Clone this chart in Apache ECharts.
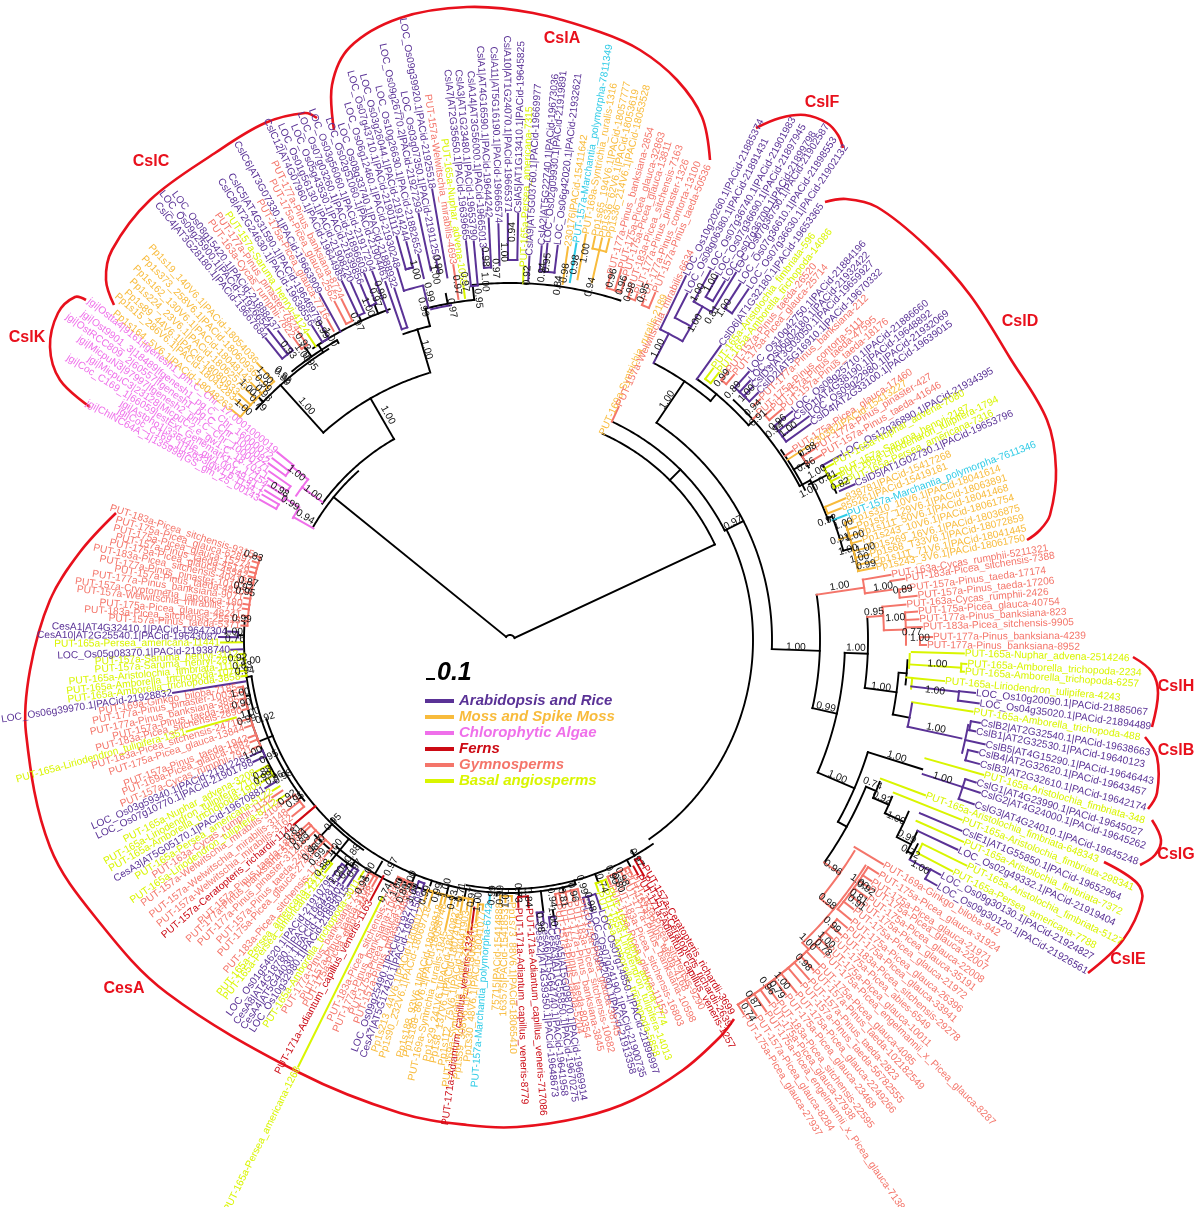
<!DOCTYPE html>
<html><head><meta charset="utf-8">
<style>html,body{margin:0;padding:0;background:#fff}#c{width:1200px;height:1207px}</style>
<script src="https://cdn.jsdelivr.net/npm/echarts@6/dist/echarts.min.js"></script>
</head><body><div id="c"></div>
<script>
// Leaves: [name, group, angle in degrees, tip depth, parent node depth]
const gymRight=[
['PUT-163a-Cycas_rumphii-5211321','G',9.7,387,358],['PUT-183a-Picea_sitchensis-7388','G',8.8,400,385],
['PUT-157a-Pinus_taeda-17174','G',7.4,403,392],['PUT-157a-Pinus_taeda-17206','G',6.2,410,392],
['PUT-163a-Cycas_rumphii-2426','G',5.1,398,374],['PUT-175a-Picea_glauca-40754','G',4,409,396],
['PUT-177a-Pinus_banksiana-823','G',2.9,410,396],['PUT-183a-Picea_sitchensis-9905','G',1.8,413,396],
['PUT-177a-Pinus_banksiana-4239','G',0.4,423,410],['PUT-177a-Pinus_banksiana-8952','G',-0.7,417,410]];
const cslH=[
['PUT-165a-Nuphar_advena-2514246','B',-1.7,455,402],['PUT-165a-Amborella_trichopoda-2234','B',-3,458,452],
['PUT-165a-Amborella_trichopoda-6257','B',-4,456,452],['PUT-165a-Liriodendron_tulipifera-4243','B',-5.4,437,404],
['LOC_Os10g20090.1|PACid-21885067','R',-6.5,469,452],['LOC_Os04g35020.1|PACid-21894489','R',-7.7,474,452],
['PUT-165a-Amborella_trichopoda-488','B',-8.8,469,407]];
const cslB=[
['CslB2|AT2G32540.1|PACid-19638663','R',-10,478,468],['CslB1|AT2G32530.1|PACid-19640123','R',-11.1,475,468],
['CslB5|AT4G15290.1|PACid-19646443','R',-12.4,487,466],['CslB4|AT2G32620.1|PACid-19643457','R',-13.5,482,471],
['CslB3|AT2G32610.1|PACid-19642174','R',-14.8,486,471]];
const cslG=[
['PUT-165a-Aristolochia_fimbriata-348','B',-15.9,493,432],['CslG1|AT4G23990.1|PACid-19645027','R',-17,488,476],
['CslG2|AT4G24000.1|PACid-19645262','R',-18,495,476],['CslG3|AT4G24010.1|PACid-19645248','R',-19.5,493,476]];
const cslE=[
['PUT-165a-Aristolochia_fimbriata-648343','B',-20.5,444,396],['PUT-165a-Aristolochia_fimbriata-298341','B',-21.7,487,413],
['CslE1|AT1G55850.1|PACid-19652964','R',-22.9,491,445],['PUT-165a-Aristolochia_fimbriata-7372','B',-24,497,445],
['LOC_Os02g49332.1|PACid-21919404','R',-25.1,495,450],['PUT-165a-Aristolochia_fimbriata-5127','B',-26.3,510,460],
['PUT-165a-Persea_americana-7788','B',-27.6,500,460],['LOC_Os09g30130.1|PACid-21924827','R',-28.6,491,479],
['LOC_Os09g30120.1|PACid-21926561','R',-29.9,493,479]];
const gymE=[
['PUT-169a-Ginkgo_biloba-942','G',-31,436,402],['PUT-175a-Picea_glauca-31924','G',-32.4,437,424],
['PUT-175a-Picea_glauca-21971','G',-33.7,435,424],['PUT-175a-Picea_glauca-22007','G',-34.6,437,424],
['PUT-175a-Picea_glauca-22008','G',-35.8,441,424],['PUT-175a-Picea_glauca-35191','G',-36.9,439,424],
['PUT-175a-Picea_glauca-21972','G',-38.1,437,424],['PUT-175a-Picea_glauca-26396','G',-39.4,442,424],
['PUT-175a-Picea_glauca-33941','G',-40.5,444,430],['PUT-183a-Picea_sitchensis-29278','G',-41.7,444,430],
['PUT-175a-Picea_abies-6549','G',-42.8,440,430],['PUT-175a-Picea_glauca-10011','G',-44,442,430],
['PUT-175a-Picea_engelmannii_x_Picea_glauca-8287','G',-45,445,430],['PUT-175a-Picea_glauca-4085','G',-46.4,449,430],
['PUT-157a-Pinus_taeda-102182549','G',-47.4,449,430],['PUT-157a-Pinus_taeda-2823','G',-48.6,453,430],
['PUT-157a-Pinus_taeda-56782555','G',-49.7,451,430],['PUT-175a-Picea_glauca-2249266','G',-50.9,455,430],
['PUT-175a-Picea_glauca-23468','G',-52.1,450,430],['PUT-183a-Picea_sitchensis-22595','G',-53.4,450,430],
['PUT-175a-Picea_glauca-27938','G',-54.4,447,430],['PUT-175a-Picea_engelmannii_x_Picea_glauca-7138','G',-55.4,452,430],
['PUT-157a-Picea_glauca-8284','G',-56.7,450,430],['PUT-175a-Picea_glauca-27937','G',-58,442,430]];
const cesABottom=[
['PUT-157a-Ceratopteris_richardii-3699','F',-59.3,263,253],['PUT-157a-Ceratopteris_richardii-2639','F',-60.4,272,253],
['PUT-171a-Adiantum_capillus_veneris-1257','F',-61.4,268,258],['PUT-183a-Picea_sitchensis-9290','G',-62.5,265,256],
['PUT-157a-Pinus_taeda-4168','G',-63.4,260,256],['PUT-177a-Pinus_banksiana-10598','G',-64.4,265,256],
['PUT-183a-Picea_sitchensis-16803','G',-66.1,265,256],['PUT-175a-Picea_glauca-11152','G',-67.6,265,256],
['PUT-165a-Nuphar_advena-1774','B',-68.2,267,258],['PUT-165a-Liriodendron_tulipifera-14013','B',-69.3,267,258],
['PUT-165a-Amborella_trichopoda-5858','B',-70.6,267,258],['LOC_Os07g14850.1|PACid-21896997','R',-71.4,285,268],
['LOC_Os07g24190.1|PACid-21900735','R',-73.1,284,268],['LOC_Os03g62090.1|PACid-21913358','R',-74.2,278,268],
['PUT-175a-Picea_glauca-38745','G',-74.8,268,258],['PUT-183a-Picea_sitchensis-10682','G',-76.2,268,258],
['PUT-177a-Pinus_banksiana-3845','G',-77.6,268,258],['PUT-157a-Pinus_taeda-80354','G',-79,268,258],
['PUT-157a-Pinus_taeda-5204','G',-79.9,268,258],['CesA5|AT5G09870.1|PACid-19669914','R',-80.9,291,280],
['CesA3|AT1G55850.1|PACid-19670275','R',-82,291,280],['CesA6|AT5G64740.1|PACid-19641958','R',-83.2,284,274],
['CesA2|AT4G39350.1|PACid-19648673','R',-84.4,284,274],['PUT-171a-Adiantum_capillus_veneris-717086','F',-86,269,257],
['PUT-171a-Adiantum_capillus_veneris-8779','F',-88.2,268,257]];
const cesAMoss=[
['Pp1s213_44V6.1|PACid-18060127','M',-108.2,276,263],['Pp1s90_232V6.1|PACid-18069718','M',-107,279,263],
['Pp1s188_93V6.1|PACid-18058818','M',-104.8,274,263],['Pp1s188_86V6.1|PACid-18058748','M',-104,272,263],
['PUT-169a-Syntrichia_ruralis-1845','M',-102.6,298,263],['Pp1s29_241V6.1|PACid-18040827','M',-101.2,272,262],
['Pp1s8_137V6.1|PACid-18074108','M',-100.3,278,262],['Pp1s112_75V6.1|PACid-18041903','M',-99.1,274,262],
['PUT-169a-Syntrichia_ruralis-2474','M',-98.2,298,262],['PUT-171a-Adiantum_capillus_veneris-1324','F',-97.6,293,270],
['Pp1s59_308V6.1|PACid-18064416','M',-96.9,285,266],['Pp1s30_48V6.1|PACid-18041077','M',-95.8,272,266],
['PUT-157a-Marchantia_polymorpha-6742','C',-94.5,264,256],['75715|PACid-15414888','M',-92.2,263,256],
['163575|PACid-15418537','M',-91,263,256],['Pp1s73_88V6.1|PACid-18065410','M',-89.6,262,256]];
const cesALeft=[
['CesA7|AT5G17420.1|PACid-19671508','R',-109.4,267,258],['LOC_Os09g25490.1|PACid-21927314','R',-110.7,267,258],
['PUT-157a-Pinus_pinaster-4896','G',-111.8,270,262],['PUT-175a-Picea_glauca-5216','G',-112.9,270,262],
['PUT-177a-Pinus_banksiana-10682','G',-114,270,262],['PUT-183a-Picea_sitchensis-2744','G',-115.3,270,262],
['PUT-165a-Persea_americana-1268','B',-116.4,477,287],['PUT-171a-Adiantum_capillus_veneris-1163','F',-118.2,296,268],
['PUT-175a-Picea_glauca-4448','G',-119.2,283,272],['PUT-157a-Pinus_taeda-3108','G',-120,283,272],
['PUT-177a-Pinus_banksiana-7340','G',-121.2,283,272],['PUT-165a-Amborella_trichopoda-3011','B',-122.3,284,274],
['LOC_Os10g32980.1|PACid-21893015','R',-123.4,296,276],['CesA4|AT5G44030.1|PACid-19658403','R',-124.5,296,276],
['CesA8|AT4G18780.1|PACid-19642815','R',-125.6,296,280],['LOC_Os01g54620.1|PACid-21910795','R',-126.9,296,280],
['PUT-165a-Persea_americana-1211','B',-128.5,298,286],['PUT-165a-Persea_americana-2374','B',-129.4,298,286],
['PUT-183a-Picea_sitchensis-1764','G',-130.6,286,272],['PUT-175a-Picea_glauca-2744','G',-132.7,292,272],
['PUT-157a-Pinus_taeda-2408','G',-134,288,272],['PUT-177a-Pinus_pinaster-3124','G',-135.6,292,272],
['PUT-177a-Pinus_banksiana-5120','G',-137,288,272],['PUT-157a-Pinus_taeda-1888','G',-137.7,288,272],
['PUT-157a-Ceratopteris_richardii-1142','F',-139.5,285,256],['PUT-157a-Welwitschia_mirabilis-3162','G',-141,281,265],
['PUT-157a-Welwitschia_mirabilis-3148','G',-142.5,281,265],['PUT-157a-Welwitschia_mirabilis-3104','G',-144.3,281,265],
['PUT-165a-Liriodendron_tulipifera-8712','B',-145.4,284,273],['PUT-163a-Cycas_rumphii-1132','G',-146.5,286,273],
['PUT-165a-Persea_americana-5122','B',-147.6,282,273],['CesA3|AT5G05170.1|PACid-19670881','R',-148.8,287,273],
['PUT-165a-Amborella_trichopoda-1904','B',-150.2,287,273],['PUT-165a-Liriodendron_tulipifera-7114','B',-151.3,287,273],
['PUT-165a-Nuphar_advena-3208','B',-152.6,287,273],['LOC_Os07g10770.1|PACid-21901798','R',-154.6,285,271],
['LOC_Os03g59340.1|PACid-21912261','R',-155.9,285,271],['PUT-157a-Cycas_rumphii-7921','G',-157.1,280,271],
['PUT-169a-Picea_glauca-1982','G',-158.5,280,271],['PUT-157a-Pinus_taeda-1942','G',-159.5,280,271],
['PUT-175a-Picea_glauca-13844','G',-161.7,280,271],['PUT-183a-Picea_sitchensis-24718','G',-163.2,280,271],
['PUT-165a-Liriodendron_tulipifera-1351','B',-164.2,337,285],['PUT-183a-Picea_sitchensis-2890','G',-165.3,277,271],
['PUT-157a-Pinus_taeda-3951','G',-166.3,277,271],['PUT-177a-Pinus_banksiana-3895','G',-167.6,277,271],
['PUT-177a-Pinus_pinaster-10036','G',-169,277,271],['PUT-169a-Ginkgo_biloba-7185','G',-170.1,277,271],
['LOC_Os06g39970.1|PACid-21928832','R',-171.1,342,268],['PUT-165a-Amborella_trichopoda-3858','B',-172.3,272,266],
['PUT-165a-Amborella_trichopoda-1074','B',-173.4,272,266],['PUT-165a-Aristolochia_fimbriata-1113','B',-174.6,272,266],
['PUT-157a-Saruma_henryi-2874','B',-175.9,272,266],['PUT-157a-Saruma_henryi-3112','B',-177,272,266],
['LOC_Os05g08370.1|PACid-21938740','R',-178,280,268],['PUT-165a-Persea_americana-11441','B',-179.5,290,268]];
const cesATop=[
['CesA10|AT2G25540.1|PACid-19643087','R',179.4,292,272],['CesA1|AT4G32410.1|PACid-19647304','R',178.3,283,272],
['PUT-157a-Pinus_taeda-5371','G',176.9,270,263],['PUT-183a-Picea_sitchensis-25518','G',175.9,270,263],
['PUT-175a-Picea_glauca-48241','G',174.8,270,263],['PUT-157a-Welwitschia_mirabilis-712','G',173.3,270,263],
['PUT-157a-Cryptomeria_japonica-180','G',172.3,270,263],['PUT-177a-Pinus_banksiana-9071','G',171,270,263],
['PUT-157a-Pinus_taeda-4820','G',169.8,270,263],['PUT-177a-Pinus_pinaster-10192','G',168.8,270,263],
['PUT-183a-Picea_sitchensis-40418','G',167.5,270,263],['PUT-175a-Picea_glauca-45542','G',166.3,270,263],
['PUT-157a-Pinus_taeda-45129','G',165.3,270,263],['PUT-175a-Picea_glauca-15274','G',164.2,270,263],
['PUT-175a-Picea_glauca-62897','G',163,270,263],['PUT-183a-Picea_sitchensis-9315','G',161.7,270,263]];
const cslK=[
['jgi|Ostta4|9161|fgenesh1_pm.C_Chr_17.0001000019','A',141.1,300,278],['jgi|Ost9901_3|18489|fgenesh1_pg.C_Chr_16000072','A',142.6,300,278],
['jgi|OstRCC809_2|60557|fgenesh1_pg.C_Chr_1000082','A',143.8,300,278],['jgi|MicpuN3|97997|fgenesh2_pm.C_Chr_10000771','A',145,295,268],
['jgi|MicpuC3|23128|MicpuC2.e_gw1.C_18.703.1','A',146.2,292,268],['jgi|Coc_C169_1|66059|estExt_Genemark1.C_17154','A',147.4,288,266],
['jgi|Astpho1|33644|e_gw1.00149.81.1','A',148.6,288,266],['jgi|Coc_C169_1|12633|gw1.6.1134.1','A',149.6,288,268],
['jgi|ChlNC64A_1|135998|GS_gm_25_00143','A',150.7,288,268]];
const mossC=[
['Pp1s164_5V6.1|PACid-18048263','M',140.4,362,350],['Pp1s15_286V6.1|PACid-18043283','M',138.8,366,350],
['Pp1s89_44V6.1|PACid-18080933','M',137.8,367,350],['Pp1s224_23V6.1|PACid-18062570','M',136.5,365,350],
['Pp1s162_130V6.1|PACid-18048143','M',135.2,366,350],['Pp1s373_258V6.1|PACid-18060936','M',133.8,367,350],
['Pp1s19_140V6.1|PACid-18054036','M',132.4,376,350]];
const cslC=[
['CslC4|AT3G28180.1|PACid-19667684','R',129,389,362],['LOC_Os09g25900.1|PACid-21926654','R',127.9,395,362],
['LOC_Os08g15420.1|PACid-21888437','R',126.9,387,362],['PUT-163a-Cycas_rumphii-7822','G',125.6,373,358],
['PUT-177a-Pinus_pinaster-7824','G',124.5,375,358],['PUT-157a-Saruma_henryi-4124','B',123.5,368,352],
['CslC8|AT2G24630.1|PACid-19638556','R',122.2,372,352],['CslC5|AT4G31590.1|PACid-19646979','R',121,371,352],
['PUT-175a-Picea_glauca-7716','G',119.7,370,356],['CslC6|AT3G07330.1|PACid-19663909','R',118.8,396,352],
['PUT-175a-Picea_glauca-2562','G',117.4,382,356],['PUT-177a-Pinus_banksiana-8724','G',116.3,381,356],
['CslC12|AT4G07960.1|PACid-19644985','R',115.1,397,358],['LOC_Os01g56130.1|PACid-21908220','R',114,392,358],
['LOC_Os05g43530.1|PACid-21839856','R',112.8,386,362],['LOC_Os07g03260.1|PACid-21896603','R',111.7,395,362],
['LOC_Os03g56060.1|PACid-21917204','R',110.5,394,350]];
const cslA=[
['LOC_Os02g51060.1|PACid-21904461','R',109.2,380,329],['LOC_Os08g33740.1|PACid-21888932','R',108.2,371,329],
['LOC_Os06g12460.1|PACid-21930248','R',106.9,389,365],['LOC_Os07g43710.1|PACid-21901112','R',105.7,420,385],
['LOC_Os03g26044.1|PACid-21914244','R',104.6,412,385],['LOC_Os10g26630.1|PACid-21882652','R',103.4,397,372],
['LOC_Os09g26770.2|PACid-21927293','R',102.1,437,378],['LOC_Os03g07350.1|PACid-21911250','R',101,387,375],
['LOC_Os09g39920.1|PACid-21925518','R',99.8,458,368],['PUT-157a-Welwitschia_mirabilis-4693','G',98.6,380,345],
['PUT-165a-Nuphar_advena-1055','B',97.5,358,345],['CslA7|AT2G35650.1|PACid-19639665','R',96.3,402,356],
['CslA3|AT1G23480.1|PACid-19653790','R',95.2,401,356],['CslA14|AT3G56000.1|PACid-19665013','R',94,393,373],
['CslA1|AT4G16590.1|PACid-19644242','R',92.9,423,373],['CslA11|AT5G16190.1|PACid-19666574','R',91.6,417,375],
['CslA10|AT1G24070.1|PACid-19665371','R',90.3,427,380],['CslA5|AT1G13410.1|PACid-19645825','R',88.9,427,380],
['PUT-165a-Persea_americana-7315','B',87.9,373,357],['CslA9|AT5G03760.1|PACid-19669977','R',87.1,385,360],
['CslA2|AT5G22740.1|PACid-19673036','R',85.4,396,370],['LOC_Os02g09930.1|PACid-21919891','R',84.6,399,370],
['LOC_Os06g42020.1|PACid-21932621','R',83.1,398,370],['230176|PACid-15411642','M',81.6,398,360],
['PUT-157a-Marchantia_polymorpha-7811349','C',80.5,403,363],['PUT-169a-Syntrichia_ruralis-1316','M',79.4,413,367],
['Pp1s65_194V6.1|PACid-18057777','M',78.1,413,400],['Pp1s36_62V6.1|PACid-18053619','M',77.1,413,400],
['Pp1s36_214V6.1|PACid-18053528','M',76.1,414,400],['PUT-177a-Pinus_banksiana-2854','G',74.6,379,365],
['PUT-175a-Picea_glauca-32863','G',73.3,388,365],['PUT-175a-Picea_glauca-13811','G',72.3,382,365],
['PUT-183a-Picea_sitchensis-7163','G',71,372,362],['PUT-177a-Pinus_pinaster-1326','G',69.8,369,362],
['PUT-177a-Pinus_contorta-13100','G',68.5,365,360],['PUT-157a-Pinus_taeda-50536','G',67.3,377,360],
['PUT-169a-Syntrichia_ruralis-2189','M',65.8,225,226],['PUT-157a-Welwitschia_mirabilis-6634','G',65,258,241]];
const cslF=[
['LOC_Os10g20260.1|PACid-21885374','R',64.2,405,345],['LOC_Os08g06380.1|PACid-21891431','R',62.9,390,362],
['LOC_Os07g36740.1|PACid-21901983','R',61.5,421,385],['LOC_Os07g36690.1|PACid-21897945','R',60.3,420,395],
['LOC_Os07g36700.1|PACid-21899798','R',59.1,419,395],['LOC_Os07g36750.1|PACid-21902587','R',58.4,432,385],
['LOC_Os07g36610.1|PACid-21898553','R',57.1,425,395],['LOC_Os07g36630.1|PACid-21902132','R',55.8,425,395]];
const cslD=[
['CslD6|AT1G32180.1|PACid-19653365','R',54.4,363,321],['PUT-165a-Aristolochia_fimbriata-596','B',53.2,340,326],
['PUT-165a-Amborella_trichopoda-14086','B',52,340,326],['PUT-157a-Pinus_taeda-26520','G',50.9,346,335],
['PUT-175a-Picea_glauca-25714','G',49.8,348,335],['LOC_Os10g42750.1|PACid-21884196','R',48.3,360,338],
['LOC_Os06g02180.1|PACid-21932422','R',47.2,354,338],['CslD3|AT3G03050.1|PACid-19659927','R',46.2,351,338],
['CslD2|AT5G16910.1|PACid-19670332','R',44.9,351,338],['PUT-177a-Pinus_banksiana-212','G',43.9,348,338],
['PUT-175a-Pinus_contorta-5111','G',42.3,335,328],['PUT-157a-Pinus_taeda-47595','G',41.4,349,340],
['PUT-157a-Pinus_taeda-18176','G',40.3,357,340],['LOC_Os08g25710.1|PACid-21886660','R',39,364,340],
['CslD1|AT4G38190.1|PACid-19648892','R',37.9,361,340],['LOC_Os09g22980.1|PACid-21932069','R',36.8,374,340],
['CslD4|AT2G33100.1|PACid-19639015','R',35.7,371,340],['PUT-175a-Picea_glauca-17460','G',33.8,341,331],
['230382|PACid-15413227','M',33,359,331],['PUT-177a-Pinus_pinaster-427','G',32.1,360,345],
['PUT-157a-Pinus_taeda-41646','G',30.7,363,345],['LOC_Os12g36890.1|PACid-21934395','R',29.2,380,357],
['PUT-165a-Nuphar_advena-7080','B',28.6,369,358],['PUT-157a-Saruma_henryi-2187','B',26.9,370,358],
['PUT-165a-Liriodendron_tulipifera-1794','B',26.3,368,358],['PUT-165a-Persea_americana-7316','B',25.2,373,358],
['CslD5|AT1G02730.1|PACid-19653796','R',24.3,379,362],['838781|PACid-15417268','M',22.9,365,342],
['855261|PACid-15419181','M',21.7,357,342],['PUT-157a-Marchantia_polymorpha-7611346','C',20.4,360,344],
['Pp1s310_10V6.1|PACid-18041614','M',19.3,362,355],['Pp1s57_129V6.1|PACid-18063891','M',18.1,365,355],
['Pp1s111_50V6.1|PACid-18041468','M',17,365,355],['Pp1s243_10V6.1|PACid-18061754','M',15.8,366,355],
['Pp1s269_16V6.1|PACid-18036875','M',14.5,369,355],['Pp1s68_T33V6.1|PACid-18072859','M',13.4,370,355],
['Pp1s111_71V6.1|PACid-18041445','M',12.2,372,355],['Pp1s243_3V6.1|PACid-18061750','M',11.2,373,355]];

// Internal branches: arcs [depth, angleA, angleB], spokes [angle, depthA, depthB]
const blackArcs=[[5,25,141],[226,25,65.8],[243,-55,27],[241,27,64.7],[262,-2,56],[312,50,62.4],[321,42,54.4],[328,28,47],[340,20.5,28],[345,15,21],[355,11.2,19.3],[331,27,35],[345,30,33],[358,24.3,29.2],
[310,-12.7,8.4],[358,-7.7,3.7],[390,-11,-5],[398,-2.9,-6.4],[335,-23.3,-2.2],[375,-29,-17.4],[385,-35.3,-22.4],[396,-23.5,-21],[413,-24.8,-22.3],[434,-26.8,-23.3],[450,-28.2,-25.1],[456,-28.6,-26.6],
[249,-100,-55],[253,-135,-75],[256,-162,-125],[261,-172,-142],[266,-184,-165],[271,-170,-150],[264,-115,-100],[270,-130,-115],[276,-135,-125],
[227,132,150],[232,120,144],[279,107,132],[324,104.3,109.2],[342,96,104.3],[357,72,96],[343,122,137.7],[346,120,129],[352,110,124]];
const blackSpokes=[[25,5,226],[141,5,227],[27,241,262],[45,226,241],[56,262,312],[50,312,321],[42,321,328],[28,328,340],[21,340,345],[15,345,355],[31,331,345],[27.5,337,358],
[-2,262,310],[-12.7,310,335],[-2.2,335,358],[-7.7,358,390],[-11,390,407],[-4.8,390,398],[-23.3,335,375],[-17.4,375,432],[-29,375,385],[-22.4,385,396],[-23.5,396,413],[-24.8,413,434],[-27,434,450],[-28,450,456],
[-60,243,249],[-62,249,256],[-70,249,258],[-75,249,253],[-78,253,258],[-83,253,274],[-81,274,280],[-88,249,257],[-93,253,256],[-100,253,262],[-98,262,266],[-104,253,263],[-108,253,258],[-112,253,262],[-120,256,272],[-125,270,276],[-126,276,280],[-129,256,286],[-134,256,272],[-143,261,265],[-150,271,273],[-158,256,271],[-168,266,271],[-172,261,266],[-176,266,268],[-181,266,272],[-185,266,263],
[120,232,279],[132,279,343],[106.6,279,324],[104.3,324,342],[96,342,357],[100.5,342,352],[125,346,358],[115,352,358],[112,352,362],[110.5,352,350],[123,343,352],[120,343,346],[136,343,350]];
const purpleArcs=[[345,60,64.2],[362,60,62.9],[385,58.4,61.5],[466,-10.5,-14],[407,-12.3,-9],[365,104,106.9],[385,105.7,104.6],[340,103.4,100]];
const purpleSpokes=[[62.6,312,345],[60,345,385],[-12.3,407,462],[-6.6,404,452],[-18,434,476],[-28.8,456,479],[103.8,342,365],[-9,407,407]];
const gymArcs=[[358,7.5,9.7],[374,1.5,5.1],[396,-0.7,1.5],[404,-39.8,-31.5],[421,-46,-32.4],[430,-58,-46]];
const gymSpokes=[[8.4,310,358],[7.5,358,385],[3.7,358,374],[1.5,374,396],[-35.3,385,404],[-39.8,404,421],[-46,421,430],[-139.5,256,285]];
const basalArcs=[[400,-4,-2],[404,-6.9,-5.4]];
const basalSpokes=[[-3.5,400,452],[-5.4,398,404]];
const algaeArcs=[[258,141.5,146],[249,148,150.7]];
const algaeSpokes=[[143.7,233,258],[141.5,258,278],[150.4,226,249],[147.8,249,266]];
const mossSpokes=[[77.1,367,400],[17,344,355]];

// Support values: [text, angle, depth]
const supportValues=[
['1.00',-1.4,286],['1.00',9.3,334],['1.00',8.1,377],['0.89',7.3,396],['0.95',4.4,365],['1.00',3.3,386],['0.77',1.1,402],['1.00',0.3,410],['1.00',-1.3,346],['0.99',-12,323],['1.00',-7.2,374],['1.00',-3.2,428],['1.00',-6.8,428],['1.00',-11.7,435],['1.00',-22.7,355],['1.00',-16.8,404],['1.00',-17.7,454],['0.74',-21.6,390],['0.92',-23,404],['1.00',-24.8,425],['0.99',-26.4,443],['0.72',-27.9,453],['1.00',-29,469],['0.96',-35.2,395],['0.98',-39.5,411],['1.00',-34.7,425],['0.92',-34.9,434],['0.81',-36.4,433],['0.91',-37.2,435],['0.99',-41.5,430],['1.00',-43.5,436],['0.78',-44.5,439],['1.00',-45.4,424],['0.98',-47.7,436],['1.00',-51.4,436],['0.79',-52.7,440],['0.96',-53.4,431],['0.87',-56,434],['0.74',-57.4,442],
['1.00',56.8,287],['1.00',63.1,327],['1.00',59.7,367],['1.00',61.6,395],['1.00',60.6,410],['0.81',58.1,383],['1.00',57.2,395],['0.97',27.7,252],['0.99',51,337],['0.89',48.3,335],['1.00',46.2,342],['0.94',43.7,336],['0.91',41.8,333],['0.96',39.1,345],['0.94',38.4,338],['1.00',37.1,349],['0.98',32.6,353],['0.86',30.6,344],['1.00',28.7,350],['0.81',27.1,357],['0.82',25.2,365],['1.00',26.5,334],['0.92',20.6,339],['1.00',19.2,353],['0.91',17,345],['1.00',16.8,360],['1.00',14.9,350],['1.00',14.5,367],['1.00',13.2,359],['0.99',11.9,364],
['1.00',106,302],['1.00',118.5,256],['1.00',131,310],['0.97',99.9,337],['0.95',95.3,343],['0.97',98.5,359],['0.99',100.9,382],['1.00',101.6,373],['0.99',103.1,357],['0.99',104.6,344],['1.00',104.4,382],['0.98',110.4,373],['0.97',111.5,368],['1.00',113.1,362],['0.97',115.7,353],['1.00',120.7,352],['0.99',121.2,363],['0.93',124.8,363],['1.00',125.9,354],['0.93',127.4,365],['0.95',125.7,343],['0.99',130.9,348],['0.99',133.9,356],['1.00',132.8,361],['0.98',135,349],['1.00',136.1,364],['0.79',136.8,346],['1.00',138.9,354],['0.92',130.6,349],['1.00',142,271],['1.00',143.3,246],['0.98',146.9,275],['0.99',148.1,259],['0.94',149,239],
['0.92',87.3,365],['0.94',85,369],['0.95',84.4,379],['0.84',82.3,358],['0.98',81.5,371],['0.98',80.2,381],['1.00',79,394],['0.94',77.2,362],['0.96',74.3,376],['0.96',72.5,372],['0.98',71,368],['0.95',69,372],['0.94',89.7,408],['1.00',90.9,388],['0.97',92.2,372],['1.00',94,359],['0.98',93.7,384],['0.97',97.2,361],
['0.83',161.9,270],['0.87',167.5,268],['0.97',168.8,272],['0.95',169.7,269],['0.99',175.5,269],['1.00',178.3,277],['0.76',179.8,275],['0.92',-176.2,273],['1.00',-175.4,260],['0.83',-174.5,269],['0.94',-173.3,267],['1.00',-168.9,275],['0.90',-166.6,276],['1.00',-164.3,270],['0.99',-163.1,275],['0.92',-162.3,257],['1.00',-156.3,281],['0.95',-154.1,268],['0.88',-151.8,281],['0.99',-150.8,283],['0.96',-149.6,273],['0.98',-148.9,265],['0.92',-144.7,273],['0.95',-143.3,268],['0.95',-134.2,254],['0.81',-138.5,290],['0.84',-137.1,289],['0.89',-135.8,290],['1.00',-133.6,280],['0.98',-133.2,291],['0.99',-131.6,290],['1.00',-130.2,272],['0.88',-129.4,295],['1.00',-126.4,292],['0.88',-126.4,265],['0.75',-125.3,282],['0.97',-124.2,276],['0.96',-121,286],['1.00',-121.5,272],['0.97',-117.7,256],['0.74',-116.3,282],['1.00',-114.6,272],['0.80',-112.9,275],['1.00',-112.6,260],['1.00',-111,271],['0.99',-108.4,269],['0.99',-106.1,263],['1.00',-104.5,256],['0.93',-102.4,266],
['0.71',-101,257],['0.97',-98.4,260],['1.00',-97,264],['0.99',-94,256],['0.99',-92.2,255],['1.00',-90.9,258],['0.73',-88.2,253],['0.84',-86,258],['0.94',-80.8,261],['1.00',-81.2,280],['0.98',-83.9,284],['0.81',-78.4,263],['0.96',-76,260],['0.99',-73.6,255],['0.98',-73,274],['0.74',-69.3,260],['0.90',-66.5,256],['0.80',-66,266],['0.98',-64.7,262],['0.97',-59.8,252]];

const legendNames=['Arabidopsis and Rice','Moss and Spike Moss','Chlorophytic Algae','Ferns','Gymnosperms','Basal angiosperms'];
const groupColors={R:'#5a3296',M:'#f8bb3c',A:'#ef6fea',F:'#cc0a14',G:'#f4756a',B:'#d9f500',C:'#2fcbe6',K:'#000000'};
const groupLegend={R:0,M:1,A:2,F:3,G:4,B:5};

// Clade brackets and names, hand-drawn annotations of the figure (page pixels)
const bracketCurves=[
[[334,130],[332,85],[350,47],[400,18],[467,7],[533,13],[600,32],[640,50],[677,80],[702,117],[710,160]],
[[756,128],[780,118],[805,115],[827,123],[838,135],[843,148]],
[[825,202],[846,199],[877,207],[927,247],[970,295],[1010,358],[1047,420],[1056,470],[1050,515],[1040,530],[1027,540]],
[[1133,657],[1152,672],[1158,693],[1152,727]],
[[1145,737],[1157,757],[1157,793],[1148,809]],
[[1152,820],[1161,840],[1155,855],[1140,865]],
[[1104,862],[1137,883],[1142,900],[1123,940],[1088,973]],
[[317,118],[305,113],[265,123],[215,153],[150,200],[112,250],[106,280],[114,305]],
[[86,300],[75,297],[58,313],[50,347],[60,380],[90,407]],
[[116,513],[80,552],[50,600],[30,670],[26,733],[50,847],[100,923],[167,993],[300,1073],[400,1113],[467,1125],[517,1127],[583,1117],[633,1100],[683,1070],[720,1037],[734,1019]]];
const cladeNames=[['CslA',562,39],['CslF',822,103],['CslD',1020,322],['CslC',151,162],['CslK',27,338],['CslH',1176,687],['CslB',1176,751],['CslG',1176,855],['CslE',1128,960],['CesA',124,989]];

const allLeaves=[].concat(gymRight,cslH,cslB,cslG,cslE,gymE,cesABottom,cesAMoss,cesALeft,cesATop,cslK,mossC,cslC,cslA,cslF,cslD);

// Turn branch lists + leaves into drawing segments [angleA, angleB, depthA, depthB]
const segs={R:[],M:[],A:[],F:[],G:[],B:[],C:[],K:[]};
function addArcs(k,list){list.forEach(a=>segs[k].push([a[1],a[2],a[0],a[0]]));}
function addSpokes(k,list){list.forEach(s=>segs[k].push([s[0],s[0],s[1],s[2]]));}
addArcs('K',blackArcs);addSpokes('K',blackSpokes);addArcs('R',purpleArcs);addSpokes('R',purpleSpokes);
addArcs('G',gymArcs);addSpokes('G',gymSpokes);addArcs('B',basalArcs);addSpokes('B',basalSpokes);
addArcs('A',algaeArcs);addSpokes('A',algaeSpokes);addSpokes('M',mossSpokes);
allLeaves.forEach((l,i)=>{
  if(l[3]>l[4]) segs[l[1]].push([l[2],l[2],l[4],l[3]-1]);
  const n=allLeaves[i+1];
  if(n&&n[1]===l[1]&&n[4]===l[4]&&Math.abs(n[2]-l[2])<3.2) segs[l[1]].push([l[2],n[2],l[4],l[4]]);
});

const labelFont='10.2px "Liberation Sans",Arial,sans-serif';
function radial(a){
  const c=Math.cos(a*Math.PI/180);
  return c>=0?{rot:a*Math.PI/180,align:'left'}:{rot:(a-180)*Math.PI/180,align:'right'};
}
function branchRender(width){return function(params,api){
  const a1=api.value(0),a2=api.value(1),r1=api.value(2),r2=api.value(3);
  const pts=[];
  if(a1===a2){pts.push(api.coord([r1,a1]).slice(0,2),api.coord([r2,a1]).slice(0,2));}
  else{const n=Math.max(2,Math.ceil(Math.abs(a2-a1)*2));
    for(let i=0;i<=n;i++)pts.push(api.coord([r1,a1+(a2-a1)*i/n]).slice(0,2));}
  return {type:'polyline',silent:true,shape:{points:pts},style:{stroke:api.visual('color'),fill:null,lineWidth:width,lineCap:'square',lineJoin:'round'}};
};}
function leafRender(params,api){
  const l=allLeaves[params.dataIndex];
  const p=api.coord([api.value(1),api.value(0)]);const t=radial(api.value(0));
  return {type:'text',silent:true,x:p[0],y:p[1],rotation:t.rot,style:{text:l[0],fill:groupColors[l[1]],font:labelFont,align:t.align,verticalAlign:'middle'}};
}
function supportRender(params,api){
  const s=supportValues[params.dataIndex];
  const p=api.coord([api.value(1),api.value(0)]);const t=radial(api.value(0));
  return {type:'text',silent:true,x:p[0],y:p[1],rotation:t.rot,style:{text:s[0],fill:'#111',font:labelFont,align:'center',verticalAlign:'middle'}};
}

const series=[];
const order=['K','A','G','F','B','M','C','R'];
const groupName=k=>k in groupLegend?legendNames[groupLegend[k]]:(k==='K'?'Backbone':'Marchantia');
order.forEach(k=>series.push({type:'custom',name:groupName(k),coordinateSystem:'polar',renderItem:branchRender(k==='K'?1.9:2),itemStyle:{color:groupColors[k]},data:segs[k],animation:false,silent:true,clip:false,encode:{angle:0,radius:2}}));
series.push({type:'custom',name:'Leaf labels',coordinateSystem:'polar',renderItem:leafRender,data:allLeaves.map(l=>[l[2],l[3]]),animation:false,silent:true,clip:false,encode:{angle:0,radius:1},z:4});
series.push({type:'custom',name:'Support',coordinateSystem:'polar',renderItem:supportRender,data:supportValues.map(s=>[s[1],s[2]]),animation:false,silent:true,clip:false,encode:{angle:0,radius:1},z:5});

const graphic=[];
bracketCurves.forEach(pts=>graphic.push({type:'polyline',silent:true,shape:{points:pts,smooth:0.35},style:{stroke:'#e8101c',fill:null,lineWidth:2.6}}));
cladeNames.forEach(c=>graphic.push({type:'text',silent:true,x:c[1],y:c[2],style:{text:c[0],fill:'#e8101c',font:'bold 16px "Liberation Sans",Arial,sans-serif',align:'center',verticalAlign:'middle'}}));
graphic.push({type:'rect',silent:true,shape:{x:426,y:678,width:9,height:2},style:{fill:'#000'}});
graphic.push({type:'text',silent:true,x:437,y:673,style:{text:'0.1',fill:'#000',font:'italic bold 25px "Liberation Sans",Arial,sans-serif',align:'left',verticalAlign:'middle'}});

const chart=echarts.init(document.getElementById('c'),null,{renderer:'canvas'});
chart.setOption({
  animation:false,backgroundColor:'#fff',
  polar:{center:[510,640],radius:[0,700]},
  angleAxis:{type:'value',min:0,max:360,startAngle:0,clockwise:false,show:false},
  radiusAxis:{type:'value',min:0,max:700,show:false},
  tooltip:{show:false},
  legend:{orient:'vertical',left:425,top:693,padding:0,itemWidth:29,itemHeight:4,itemGap:0,itemStyle:{borderWidth:0},selectedMode:false,
    data:legendNames.map((n,i)=>({name:n,icon:'rect',textStyle:{color:groupColors['RMAFGB'[i]],fontSize:15,fontWeight:'bold',fontStyle:'italic',fontFamily:'"Liberation Sans",Arial,sans-serif',lineHeight:16,height:16}}))},
  graphic:graphic,
  series:series
});
</script></body></html>
